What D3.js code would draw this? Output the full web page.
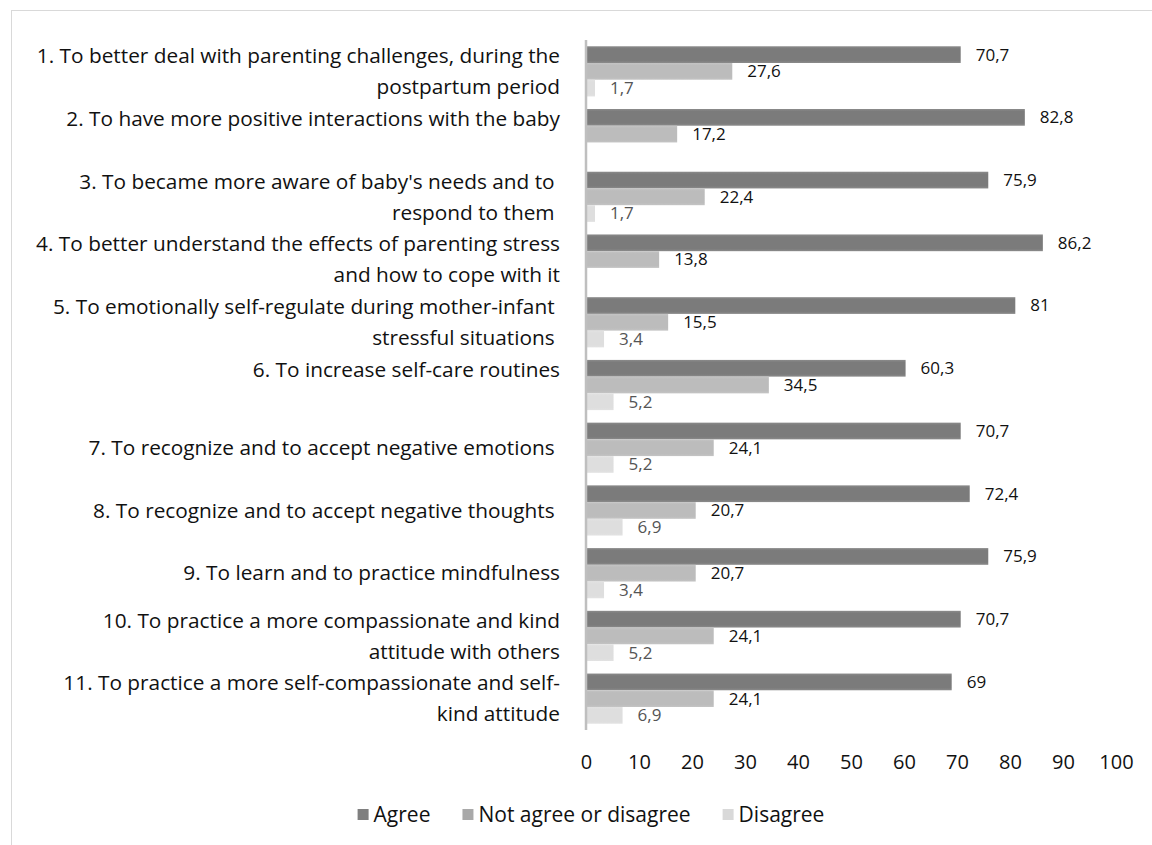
<!DOCTYPE html>
<html>
<head>
<meta charset="utf-8">
<script src="https://cdn.jsdelivr.net/npm/d3@7"></script>
<style>
  html, body { margin: 0; padding: 0; background: #fff; }
  svg text { font-family: "Open Sans", "Noto Sans", sans-serif; white-space: pre; }
</style>
</head>
<body>
<svg id="chart" width="1152" height="845"></svg>
<script>
// Statement labels (each entry is the list of wrapped lines)
const categories = [
  ["1. To better deal with parenting challenges, during the", "postpartum period"],
  ["2. To have more positive interactions with the baby", ""],
  ["3. To became more aware of baby's needs and to ", "respond to them "],
  ["4. To better understand the effects of parenting stress", "and how to cope with it"],
  ["5. To emotionally self-regulate during mother-infant ", "stressful situations "],
  ["6. To increase self-care routines", ""],
  ["7. To recognize and to accept negative emotions "],
  ["8. To recognize and to accept negative thoughts "],
  ["9. To learn and to practice mindfulness"],
  ["10. To practice a more compassionate and kind", "attitude with others"],
  ["11. To practice a more self-compassionate and self-", "kind attitude"]
];

const seriesNames = ["Agree", "Not agree or disagree", "Disagree"];
const agree      = [70.7, 82.8, 75.9, 86.2, 81, 60.3, 70.7, 72.4, 75.9, 70.7, 69];
const neutral    = [27.6, 17.2, 22.4, 13.8, 15.5, 34.5, 24.1, 20.7, 20.7, 24.1, 24.1];
const disagree   = [1.7, null, 1.7, null, 3.4, 5.2, 5.2, 6.9, 3.4, 5.2, 6.9];
const xTicks     = [0, 10, 20, 30, 40, 50, 60, 70, 80, 90, 100];

const seriesColors = ["#7b7b7b", "#bcbcbc", "#dedede"];
const legendColors = ["#7f7f7f", "#a9a9a9", "#d9d9d9"];
const labelColors  = ["#111", "#111", "#555"];

const svg = d3.select("#chart");

// outer frame
svg.append("rect")
  .attr("x", 11.5).attr("y", 10.5)
  .attr("width", 1170).attr("height", 860)
  .attr("fill", "none").attr("stroke", "#d9d9d9").attr("stroke-width", 1);

const plot = { left: 586, right: 1116, top: 40, bottom: 730 };

const x = d3.scaleLinear().domain([0, 100]).range([plot.left, plot.right]);
const y = d3.scaleBand().domain(d3.range(categories.length))
  .range([plot.top, plot.bottom]).paddingInner(0.2).paddingOuter(0.1);
const ySub = d3.scaleBand().domain([0, 1, 2]).range([0, y.bandwidth()]);

const series = [agree, neutral, disagree];
const rows = [];
series.forEach((vals, s) => vals.forEach((v, i) => {
  if (v !== null) rows.push({ s, i, v });
}));

// soft vertical shading on bars
const defs = svg.append("defs");
seriesColors.forEach((c, s) => {
  const g = defs.append("linearGradient").attr("id", "g" + s)
    .attr("x1", 0).attr("x2", 0).attr("y1", 0).attr("y2", 1);
  const lighter = d3.interpolateRgb(c, "#fff")(0.12);
  g.append("stop").attr("offset", "0%").attr("stop-color", lighter);
  g.append("stop").attr("offset", "15%").attr("stop-color", c);
  g.append("stop").attr("offset", "85%").attr("stop-color", c);
  g.append("stop").attr("offset", "100%").attr("stop-color", lighter);
});

svg.append("g").selectAll("rect").data(rows).join("rect")
  .attr("x", x(0))
  .attr("y", d => y(d.i) + ySub(d.s))
  .attr("width", d => x(d.v) - x(0))
  .attr("height", ySub.bandwidth())
  .attr("fill", d => `url(#g${d.s})`);

// value labels
const fmt = v => String(v).replace(".", ",");
svg.append("g").selectAll("text").data(rows).join("text")
  .attr("x", d => x(d.v) + 15)
  .attr("y", d => y(d.i) + ySub(d.s) + ySub.bandwidth() / 2)
  .attr("dy", "0.35em")
  .attr("font-size", 17)
  .attr("fill", d => labelColors[d.s])
  .text(d => fmt(d.v));

// vertical category axis line
svg.append("line")
  .attr("x1", x(0)).attr("x2", x(0))
  .attr("y1", plot.top).attr("y2", plot.bottom)
  .attr("stroke", "#bfbfbf").attr("stroke-width", 2.5);

// category labels
const lineGap = 31;
const catG = svg.append("g");
categories.forEach((lines, i) => {
  const cy = y(i) + y.bandwidth() / 2;
  const n = lines.length;
  const t = catG.append("text")
    .attr("text-anchor", "end")
    .attr("font-size", 20.8)
    .attr("fill", "#111");
  lines.forEach((ln, k) => {
    t.append("tspan")
      .attr("x", 560)
      .attr("y", cy + (k - (n - 1) / 2) * lineGap)
      .attr("dy", "0.35em")
      .text(ln);
  });
});

// x axis tick labels
const xAxis = d3.axisBottom(x).tickValues(xTicks).tickSize(0).tickPadding(0);
const ax = svg.append("g").attr("transform", "translate(0,755)").call(xAxis);
ax.select(".domain").remove();
ax.selectAll("text")
  .attr("font-size", 20)
  .attr("fill", "#111")
  .style("font-family", "\"Open Sans\", \"Noto Sans\", sans-serif");

// legend
const legend = svg.append("g");
let lx = 0;
const items = [];
seriesNames.forEach((name, s) => {
  const g = legend.append("g");
  g.append("rect").attr("x", 0).attr("y", -6).attr("width", 11).attr("height", 11)
    .attr("fill", legendColors[s]);
  const tx = g.append("text").attr("x", 16).attr("y", 0).attr("dy", "0.35em")
    .attr("font-size", 21).attr("fill", "#111").text(name);
  items.push({ g, w: 16 + tx.node().getComputedTextLength() });
});
const gap = 32;
const total = d3.sum(items, d => d.w) + gap * (items.length - 1);
lx = 591 - total / 2;
items.forEach(it => {
  it.g.attr("transform", `translate(${lx},815)`);
  lx += it.w + gap;
});
</script>
</body>
</html>
